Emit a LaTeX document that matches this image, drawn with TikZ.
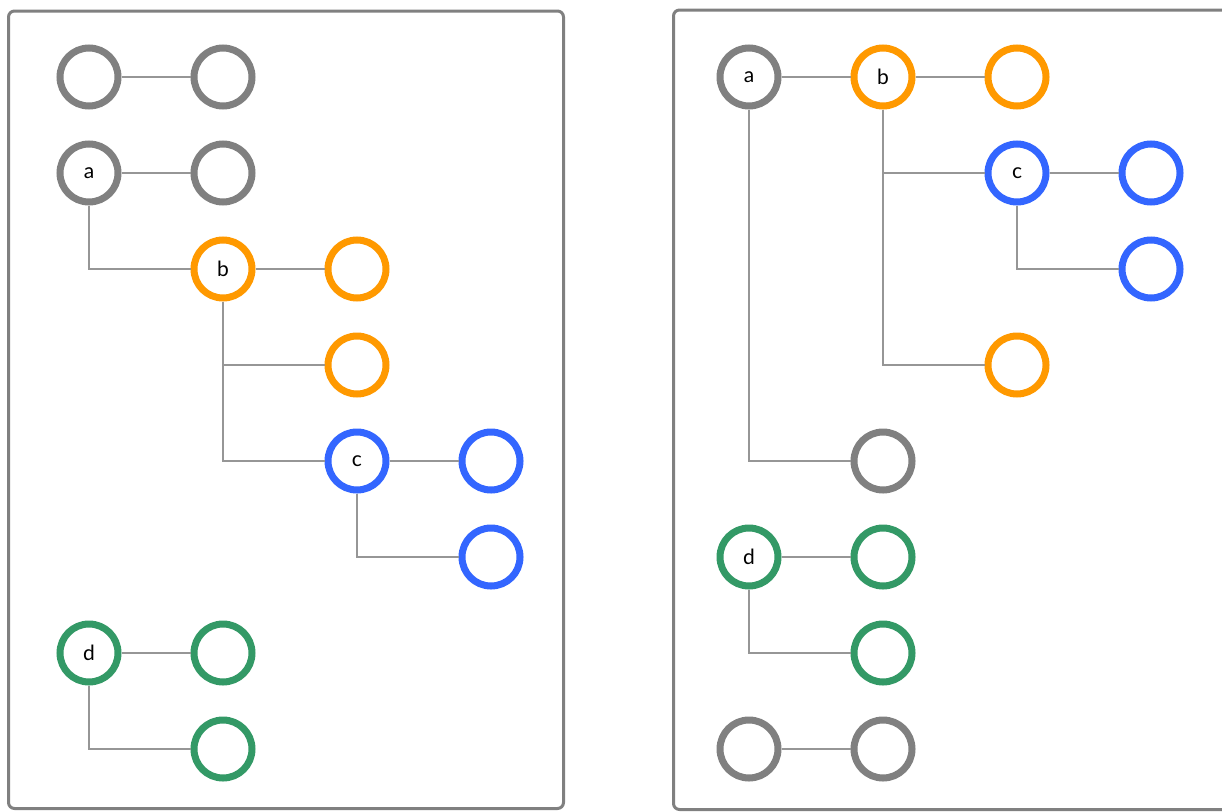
\documentclass[tikz,border=0pt]{standalone}
\usepackage{fontspec}
\setmainfont{Lato}
\definecolor{cgray}{RGB}{128,128,128}
\definecolor{corange}{RGB}{255,153,0}
\definecolor{cblue}{RGB}{51,102,255}
\definecolor{cgreen}{RGB}{51,153,102}
\definecolor{clink}{RGB}{150,150,150}
\definecolor{cpanel}{RGB}{128,128,128}
\tikzset{
  nd/.style={circle, minimum size=58pt, inner sep=0pt, line width=7pt, fill=white, font=\fontsize{21}{23}\selectfont},
  g/.style={nd, draw=cgray},
  o/.style={nd, draw=corange},
  bl/.style={nd, draw=cblue},
  gr/.style={nd, draw=cgreen},
  link/.style={draw=clink, line width=1.8pt},
  panel/.style={draw=cpanel, line width=3pt, rounded corners=6pt}
}
\begin{document}
\begin{tikzpicture}[x=1pt,y=-1pt]
\useasboundingbox (0,0) rectangle (1222,811);
\draw[panel] (8.5,11) rectangle (563.5,808.5);
\draw[panel] (673.5,10) rectangle (1240,809.5);
% left panel
\node[g] (L1) at (89,77) {};
\node[g] (L2) at (223,77) {};
\node[g] (La) at (89,173) {a};
\node[g] (La2) at (223,173) {};
\node[o] (Lb) at (223,269) {b};
\node[o] (Lb1) at (357,269) {};
\node[o] (Lb2) at (357,365) {};
\node[bl] (Lc) at (357,461) {c};
\node[bl] (Lc1) at (491,461) {};
\node[bl] (Lc2) at (491,557) {};
\node[gr] (Ld) at (89,653) {d};
\node[gr] (Ld1) at (223,653) {};
\node[gr] (Ld2) at (223,749) {};
\draw[link] (L1) -- (L2);
\draw[link] (La) -- (La2);
\draw[link] (La) |- (Lb);
\draw[link] (Lb) -- (Lb1);
\draw[link] (Lb) |- (Lb2);
\draw[link] (Lb) |- (Lc);
\draw[link] (Lc) -- (Lc1);
\draw[link] (Lc) |- (Lc2);
\draw[link] (Ld) -- (Ld1);
\draw[link] (Ld) |- (Ld2);
% right panel
\node[g] (Ra) at (749,77) {a};
\node[o] (Rb) at (883,77) {b};
\node[o] (Rb1) at (1017,77) {};
\node[bl] (Rc) at (1017,173) {c};
\node[bl] (Rc1) at (1151,173) {};
\node[bl] (Rc2) at (1151,269) {};
\node[o] (Rb2) at (1017,365) {};
\node[g] (Ra2) at (883,461) {};
\node[gr] (Rd) at (749,557) {d};
\node[gr] (Rd1) at (883,557) {};
\node[gr] (Rd2) at (883,653) {};
\node[g] (R1) at (749,749) {};
\node[g] (R2) at (883,749) {};
\draw[link] (Ra) -- (Rb);
\draw[link] (Rb) -- (Rb1);
\draw[link] (Rb) |- (Rc);
\draw[link] (Rc) -- (Rc1);
\draw[link] (Rc) |- (Rc2);
\draw[link] (Rb) |- (Rb2);
\draw[link] (Ra) |- (Ra2);
\draw[link] (Rd) -- (Rd1);
\draw[link] (Rd) |- (Rd2);
\draw[link] (R1) -- (R2);
\end{tikzpicture}
\end{document}
